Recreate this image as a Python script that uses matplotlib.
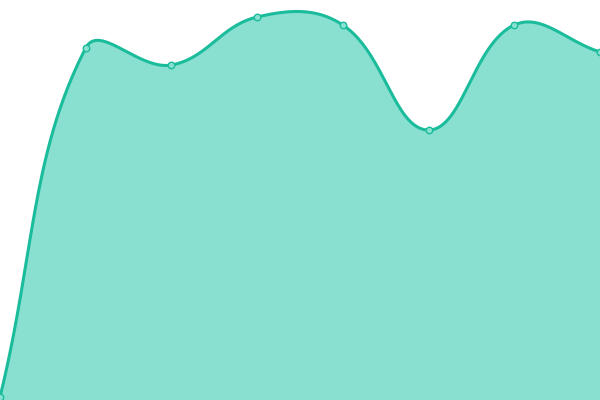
import numpy as np
import matplotlib
matplotlib.use("Agg")
import matplotlib.pyplot as plt

# values (0 = bottom of chart, 400 = top)
labels = ["1", "2", "3", "4", "5", "6", "7", "8"]
values = [3, 352, 335, 383, 375, 270, 375, 348]

line_color = "#1abc9c"
fill_color = "#8ae0d0"
W, H = 600, 400


def spline_curve(xs, ys, tension=0.4, steps=60):
    # chart.js style bezier smoothing, done in pixel space
    n = len(xs)
    cps = []
    for i in range(n):
        p0 = (xs[max(i - 1, 0)], ys[max(i - 1, 0)])
        p1 = (xs[i], ys[i])
        p2 = (xs[min(i + 1, n - 1)], ys[min(i + 1, n - 1)])
        d01 = np.hypot(p1[0] - p0[0], p1[1] - p0[1])
        d12 = np.hypot(p2[0] - p1[0], p2[1] - p1[1])
        s = d01 + d12 if d01 + d12 > 0 else 1
        fa = tension * d01 / s
        fb = tension * d12 / s
        prev_cp = (p1[0] - fa * (p2[0] - p0[0]), p1[1] - fa * (p2[1] - p0[1]))
        next_cp = (p1[0] + fb * (p2[0] - p0[0]), p1[1] + fb * (p2[1] - p0[1]))
        cps.append((prev_cp, next_cp))
    outx, outy = [], []
    t = np.linspace(0, 1, steps)
    for i in range(n - 1):
        a = np.array([xs[i], ys[i]])
        b = np.array(cps[i][1])
        c = np.array(cps[i + 1][0])
        d = np.array([xs[i + 1], ys[i + 1]])
        pts = ((1 - t) ** 3)[:, None] * a + (3 * (1 - t) ** 2 * t)[:, None] * b \
            + (3 * (1 - t) * t ** 2)[:, None] * c + (t ** 3)[:, None] * d
        outx.extend(pts[:, 0])
        outy.extend(pts[:, 1])
    return np.array(outx), np.array(outy)


fig = plt.figure(figsize=(6, 4), dpi=100)
ax = fig.add_axes([0, 0, 1, 1])

xs = np.arange(len(values)) * W / (len(values) - 1)
ys = np.array(values, dtype=float)
cx, cy = spline_curve(xs, ys)

ax.fill_between(cx, cy, 0, color=fill_color, lw=0)
ax.plot(cx, cy, color=line_color, lw=2.2, solid_capstyle="round")
ax.scatter(xs, ys, s=22, facecolor=fill_color, edgecolor=line_color, lw=1, zorder=3)

ax.set_xlim(0, W)
ax.set_ylim(0, H)
ax.axis("off")

fig.savefig("out.png", dpi=100)
